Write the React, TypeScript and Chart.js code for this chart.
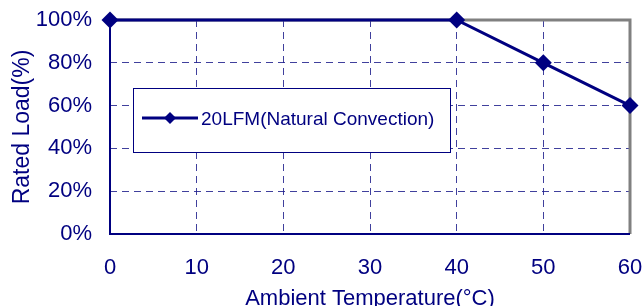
import React, { useEffect, useRef } from "react";
import { Chart, registerables } from "chart.js";

Chart.register(...registerables);

const temperatures = [0, 40, 50, 60];
const ratedLoad = [100, 100, 80, 60];
const seriesLabel = "20LFM(Natural Convection)";
const xTitle = "Ambient Temperature(°C)";
const yTitle = "Rated Load(%)";

const NAVY = "#000080";
const GRID = "rgba(30,30,140,0.85)";
const FONT = "'Liberation Sans', Arial, sans-serif";

const framePlugin = {
  id: "frameAndLegend",
  beforeDatasetsDraw(chart: any) {
    const { ctx, chartArea } = chart;
    const { left, right, top, bottom } = chartArea;
    ctx.save();
    ctx.setLineDash([]);
    // gray top and right frame
    ctx.strokeStyle = "#808080";
    ctx.lineWidth = 3;
    ctx.beginPath();
    ctx.moveTo(left, top);
    ctx.lineTo(right, top);
    ctx.lineTo(right, bottom);
    ctx.stroke();
    // navy left & bottom axes
    ctx.strokeStyle = NAVY;
    ctx.lineWidth = 2;
    ctx.beginPath();
    ctx.moveTo(left, top);
    ctx.lineTo(left, bottom);
    ctx.lineTo(right, bottom);
    ctx.stroke();

    // legend box
    const ds = chart.data.datasets[0];
    const bx = left + 23;
    const by = top + 68;
    const bw = 317;
    const bh = 64;
    ctx.fillStyle = "#ffffff";
    ctx.fillRect(bx, by, bw, bh);
    ctx.strokeStyle = NAVY;
    ctx.lineWidth = 1;
    ctx.strokeRect(bx + 0.5, by + 0.5, bw, bh);
    const ly = by + 30;
    ctx.strokeStyle = NAVY;
    ctx.lineWidth = 3;
    ctx.beginPath();
    ctx.moveTo(bx + 9, ly);
    ctx.lineTo(bx + 65, ly);
    ctx.stroke();
    ctx.fillStyle = NAVY;
    const cx = bx + 37;
    const r = 6;
    ctx.beginPath();
    ctx.moveTo(cx, ly - r);
    ctx.lineTo(cx + r, ly);
    ctx.lineTo(cx, ly + r);
    ctx.lineTo(cx - r, ly);
    ctx.closePath();
    ctx.fill();
    ctx.font = `19px ${FONT}`;
    ctx.textAlign = "left";
    ctx.textBaseline = "middle";
    ctx.fillText(ds.label, bx + 68, ly + 2);
    ctx.restore();
  },
};

export default function App() {
  const ref = useRef<HTMLCanvasElement | null>(null);
  useEffect(() => {
    if (!ref.current) return;
    const chart = new Chart(ref.current, {
      type: "line",
      data: {
        datasets: [
          {
            label: seriesLabel,
            data: temperatures.map((t, i) => ({ x: t, y: ratedLoad[i] })),
            borderColor: NAVY,
            backgroundColor: NAVY,
            borderWidth: 3,
            pointStyle: "rectRot",
            pointRadius: 8.5,
            pointHoverRadius: 8.5,
            pointBorderWidth: 0,
            clip: false as any,
            tension: 0,
          },
        ],
      },
      options: {
        animation: false,
        responsive: false,
        devicePixelRatio: 1,
        layout: { padding: { top: 20, right: 14, left: 0, bottom: 0 } },
        plugins: { legend: { display: false }, tooltip: { enabled: false } },
        scales: {
          x: {
            type: "linear",
            min: 0,
            max: 60,
            afterFit: (s: any) => {
              s.height = 72;
              s.paddingLeft = 0;
              s.paddingRight = 0;
              s.paddingTop = 0;
              s.paddingBottom = 0;
            },
            ticks: {
              stepSize: 10,
              color: NAVY,
              padding: 21,
              font: { family: FONT, size: 22 },
            },
            grid: {
              drawTicks: false,
              lineWidth: 1,
              color: (c: any) =>
                c.tick && (c.tick.value === 0 || c.tick.value === 60) ? "transparent" : GRID,
            },
            border: { display: false, dash: [7, 5] },
            title: {
              display: true,
              text: xTitle,
              color: NAVY,
              font: { family: FONT, size: 22 },
              padding: { top: 0, bottom: -6 },
            },
          },
          y: {
            min: 0,
            max: 100,
            afterFit: (s: any) => {
              s.width = 110;
              s.paddingLeft = 0;
              s.paddingRight = 0;
              s.paddingTop = 0;
              s.paddingBottom = 0;
            },
            ticks: {
              stepSize: 20,
              color: NAVY,
              padding: 18,
              font: { family: FONT, size: 22 },
              callback: (v: any) => `${v}%`,
            },
            grid: {
              drawTicks: false,
              lineWidth: 1,
              color: (c: any) =>
                c.tick && (c.tick.value === 0 || c.tick.value === 100) ? "transparent" : GRID,
            },
            border: { display: false, dash: [7, 5] },
            title: {
              display: true,
              text: yTitle,
              color: NAVY,
              font: { family: FONT, size: 23 },
              padding: { top: 9, bottom: 0 },
            },
          },
        },
      },
      plugins: [framePlugin],
    });
    return () => chart.destroy();
  }, []);
  return (
    <div style={{ position: "absolute", left: 0, top: 0, width: 644, height: 306, background: "#fff" }}>
      <canvas ref={ref} width={644} height={306} style={{ display: "block" }} />
    </div>
  );
}
